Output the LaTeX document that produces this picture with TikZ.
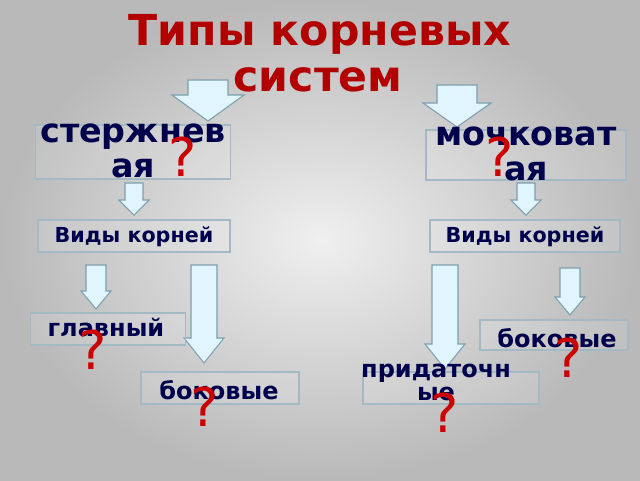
\documentclass[tikz,border=0pt]{standalone}
\usepackage{fontspec}
\setmainfont{DejaVu Sans}
\begin{document}
\begin{tikzpicture}[x=0.75pt,y=-0.75pt,
  box/.style={draw=cyan!25!gray!70,line width=1.2pt,fill=white,fill opacity=0.12,text opacity=1,inner sep=0pt},
  lbl/.style={font=\bfseries,text=blue!30!black,align=center,inner sep=0pt},
  qm/.style={text=red!80!black,inner sep=0pt,font=\fontsize{40}{40}\selectfont},
  arr/.style={draw=cyan!30!gray,fill=cyan!12!white,line width=0.8pt}]
\def\barrow#1#2#3#4#5#6{% xc ytop ybot shaftw headw headh
  \path[arr] ({#1-#4/2},#2) -- ({#1+#4/2},#2) -- ({#1+#4/2},{#3-#6}) -- ({#1+#5/2},{#3-#6}) -- (#1,#3) -- ({#1-#5/2},{#3-#6}) -- ({#1-#4/2},{#3-#6}) -- cycle;}
\shade[inner color=gray!12,outer color=gray!55] (0,0) rectangle (640,480);
\useasboundingbox (0,0) rectangle (640,480);
\node[text=red!70!black,font=\bfseries\fontsize{32}{32}\selectfont] (t1) at (320,34) {Типы корневых};
\node[text=red!70!black,font=\bfseries\fontsize{32}{32}\selectfont] (t2) at (318,80) {систем};
% big arrows
\barrow{208}{80}{121}{40}{72}{26}
\barrow{457}{85}{127}{40}{68}{24}
% boxes
\node[box,minimum width=146.25pt,minimum height=40.5pt] (b1) at (133,152) {};
\node[lbl,font=\bfseries\fontsize{25}{25}\selectfont,anchor=north] (b1t) at (133,124) {стержнев\\[1pt]ая};
\node[qm] (q1) at (183,157) {?};
\node[box,minimum width=150pt,minimum height=37.5pt] (b2) at (526,155) {};
\node[lbl,font=\bfseries\fontsize{25}{25}\selectfont,anchor=north] (b2t) at (526,127) {мочковат\\[1pt]ая};
\node[qm] (q2) at (500,157) {?};
% small arrows
\barrow{134}{183}{215}{18}{30}{15}
\barrow{526}{183}{215}{18}{30}{15}
\node[box,minimum width=144pt,minimum height=24pt] (v1) at (134,236) {};
\node[lbl,font=\bfseries\fontsize{15.5}{15.5}\selectfont] (v1t) at (134,237) {Виды корней};
\node[box,minimum width=142.5pt,minimum height=24pt] (v2) at (525,236) {};
\node[lbl,font=\bfseries\fontsize{15.5}{15.5}\selectfont] (v2t) at (525,237) {Виды корней};
% lower arrows
\barrow{96}{265}{309}{20}{30}{18}
\barrow{204}{265}{363}{26}{40}{25}
\barrow{445}{265}{369}{26}{40}{25}
\barrow{570}{268}{315}{20}{30}{18}
% lower boxes
\node[box,minimum width=116.25pt,minimum height=24pt] (g) at (108,329) {};
\node[lbl,font=\bfseries\fontsize{18}{18}\selectfont] (gt) at (106,327) {главный};
\node[qm] (q3) at (93,350) {?};
\node[box,minimum width=118.5pt,minimum height=24pt] (s1) at (220,388) {};
\node[lbl,font=\bfseries\fontsize{18}{18}\selectfont] (s1t) at (219,390) {боковые};
\node[qm] (q4) at (205,407) {?};
\node[box,minimum width=132pt,minimum height=24pt] (p) at (451,388) {};
\node[lbl,font=\bfseries\fontsize{18}{18}\selectfont,anchor=north] (pt) at (436,364) {придаточн\\[-1pt]ые};
\node[qm] (q5) at (445,413) {?};
\node[box,minimum width=111pt,minimum height=22.5pt] (s2) at (554,335) {};
\node[lbl,font=\bfseries\fontsize{18}{18}\selectfont] (s2t) at (557,338) {боковые};
\node[qm] (q6) at (569,358) {?};
\end{tikzpicture}
\end{document}
